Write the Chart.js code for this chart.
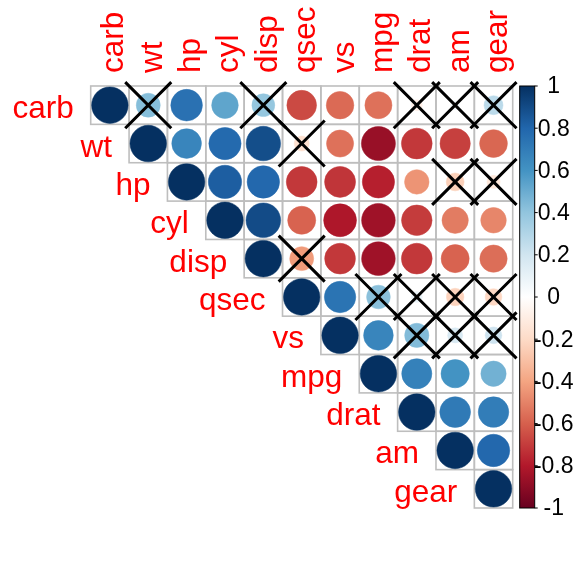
<!DOCTYPE html>
<html><head><meta charset="utf-8">
<script src="https://cdn.jsdelivr.net/npm/chart.js@4/dist/chart.umd.min.js"></script>
<style>html,body{margin:0;padding:0;background:#fff}canvas{display:block}</style>
</head><body>
<canvas id="c" width="576" height="576"></canvas>
<script>
// ---- data ----
const variables = ['carb','wt','hp','cyl','disp','qsec','vs','mpg','drat','am','gear'];
// upper-triangle rows: values from the diagonal to the right, in the order of `variables`
const rowCarb = [1, 0.43, 0.75, 0.53, 0.39, -0.66, -0.57, -0.55, -0.09, 0.06, 0.27];
const rowWt   = [1, 0.66, 0.78, 0.89, -0.17, -0.55, -0.87, -0.71, -0.69, -0.58];
const rowHp   = [1, 0.83, 0.79, -0.71, -0.72, -0.78, -0.45, -0.24, -0.13];
const rowCyl  = [1, 0.90, -0.59, -0.81, -0.85, -0.70, -0.52, -0.49];
const rowDisp = [1, -0.43, -0.71, -0.85, -0.71, -0.59, -0.56];
const rowQsec = [1, 0.74, 0.42, 0.09, -0.23, -0.21];
const rowVs   = [1, 0.66, 0.44, 0.17, 0.21];
const rowMpg  = [1, 0.68, 0.60, 0.48];
const rowDrat = [1, 0.71, 0.70];
const rowAm   = [1, 0.79];
const rowGear = [1];
const crossedPairs = [
  ['carb','wt'],['carb','disp'],['carb','drat'],['carb','am'],['carb','gear'],
  ['wt','qsec'],['hp','am'],['hp','gear'],['disp','qsec'],
  ['qsec','mpg'],['qsec','drat'],['qsec','am'],['qsec','gear'],
  ['vs','drat'],['vs','am'],['vs','gear']
];
const legendTicks  = [1, 0.8, 0.6, 0.4, 0.2, 0, -0.2, -0.4, -0.6, -0.8, -1];
const legendLabels = ['1','0.8','0.6','0.4','0.2','0','-0.2','-0.4','-0.6','-0.8','-1'];

// ---- style ----
const palette = ['#67001F','#B2182B','#D6604D','#F4A582','#FDDBC7','#FFFFFF','#D1E5F0','#92C5DE','#4393C3','#2166AC','#053061'];
const FONT = "'Liberation Sans', Arial, Helvetica, sans-serif";

function hex(h){return [parseInt(h.slice(1,3),16),parseInt(h.slice(3,5),16),parseInt(h.slice(5,7),16)];}
function colorFor(v){
  const t = (v + 1) / 2 * (palette.length - 1);
  const i = Math.max(0, Math.min(Math.floor(t), palette.length - 2));
  const f = t - i;
  const a = hex(palette[i]), b = hex(palette[i+1]);
  const c = a.map((x,k)=>Math.round(x + (b[k]-x)*f));
  return 'rgb(' + c.join(',') + ')';
}
function cellSize(chart){
  const xs = chart.scales.x;
  return Math.abs(xs.getPixelForValue(1) - xs.getPixelForValue(0));
}

const rows = [rowCarb,rowWt,rowHp,rowCyl,rowDisp,rowQsec,rowVs,rowMpg,rowDrat,rowAm,rowGear];
const circleData = [];
rows.forEach((r,i)=>r.forEach((v,k)=>circleData.push({x:i+k, y:i, v:v})));
const crossData = crossedPairs.map(p=>({x:variables.indexOf(p[1]), y:variables.indexOf(p[0])}));

const gridPlugin = {
  id:'gridCells',
  beforeDatasetsDraw(chart){
    const ctx = chart.ctx, xs = chart.scales.x, ys = chart.scales.y;
    const c = cellSize(chart);
    ctx.save();
    ctx.strokeStyle = '#BEBEBE';
    ctx.lineWidth = 1.6;
    for(let i=0;i<variables.length;i++){
      for(let j=i;j<variables.length;j++){
        const cx = xs.getPixelForValue(j), cy = ys.getPixelForValue(i);
        ctx.strokeRect(cx - c/2, cy - c/2, c, c);
      }
    }
    ctx.restore();
  },
  afterDatasetsDraw(chart){
    const ctx = chart.ctx, xs = chart.scales.x, ys = chart.scales.y;
    const h = 0.6 * cellSize(chart);
    ctx.save();
    ctx.strokeStyle = '#000';
    ctx.lineWidth = 3;
    crossData.forEach(p=>{
      const cx = xs.getPixelForValue(p.x), cy = ys.getPixelForValue(p.y);
      ctx.beginPath();
      ctx.moveTo(cx - h, cy - h); ctx.lineTo(cx + h, cy + h);
      ctx.moveTo(cx + h, cy - h); ctx.lineTo(cx - h, cy + h);
      ctx.stroke();
    });
    ctx.restore();
  }
};

const labelPlugin = {
  id:'labels',
  afterDraw(chart){
    const ctx = chart.ctx, xs = chart.scales.x, ys = chart.scales.y, cb = chart.scales.cb;
    const c = cellSize(chart);
    const area = chart.chartArea;
    ctx.save();
    ctx.fillStyle = '#FF0000';
    ctx.font = '31.5px ' + FONT;
    ctx.textAlign = 'right';
    ctx.textBaseline = 'alphabetic';
    variables.forEach((name,i)=>{
      const x = xs.getPixelForValue(i) - c/2 - 17;
      const y = ys.getPixelForValue(i) + 13;
      ctx.fillText(name, x, y);
    });
    ctx.textAlign = 'left';
    variables.forEach((name,j)=>{
      ctx.save();
      ctx.translate(xs.getPixelForValue(j) + 13.5, area.top - 13);
      ctx.rotate(-Math.PI/2);
      ctx.fillText(name, 0, 0);
      ctx.restore();
    });
    const bx0 = area.right + 7, bw = 15;
    const top = cb.getPixelForValue(1), bot = cb.getPixelForValue(-1);
    const g = ctx.createLinearGradient(0, top, 0, bot);
    palette.slice().reverse().forEach((col,k)=>g.addColorStop(k/(palette.length-1), col));
    ctx.fillStyle = g;
    ctx.fillRect(bx0, top, bw, bot - top);
    ctx.strokeStyle = '#000';
    ctx.lineWidth = 1;
    ctx.strokeRect(bx0, top, bw, bot - top);
    ctx.fillStyle = '#000';
    ctx.font = '23px ' + FONT;
    ctx.textAlign = 'center';
    ctx.textBaseline = 'middle';
    legendTicks.forEach((t,k)=>{
      const y = cb.getPixelForValue(t);
      ctx.beginPath();
      ctx.moveTo(bx0 + bw, y); ctx.lineTo(bx0 + bw + 3, y);
      ctx.stroke();
      ctx.fillText(legendLabels[k], area.right + 41, y + 1);
    });
    ctx.restore();
  }
};

new Chart(document.getElementById('c'), {
  type:'scatter',
  data:{
    datasets:[
      {
        label:'correlation',
        data:circleData,
        clip:false,
        pointStyle:'circle',
        pointRadius: ctx => 0.476 * cellSize(ctx.chart) * Math.sqrt(Math.abs(ctx.raw.v)),
        pointHoverRadius: ctx => 0.476 * cellSize(ctx.chart) * Math.sqrt(Math.abs(ctx.raw.v)),
        pointBackgroundColor: ctx => colorFor(ctx.raw.v),
        pointBorderColor: ctx => colorFor(ctx.raw.v),
        pointBorderWidth: 0.5
      }
    ]
  },
  options:{
    responsive:false,
    animation:false,
    devicePixelRatio:1,
    layout:{padding:{left:90.7, top:86, right:63.3, bottom:68}},
    scales:{
      x:{type:'linear', min:-0.5, max:10.5, display:false},
      y:{type:'linear', min:-0.5, max:10.5, reverse:true, display:false},
      cb:{type:'linear', axis:'y', min:-1, max:1, display:false}
    },
    plugins:{legend:{display:false}, tooltip:{enabled:false}}
  },
  plugins:[gridPlugin, labelPlugin]
});
</script>
</body></html>
